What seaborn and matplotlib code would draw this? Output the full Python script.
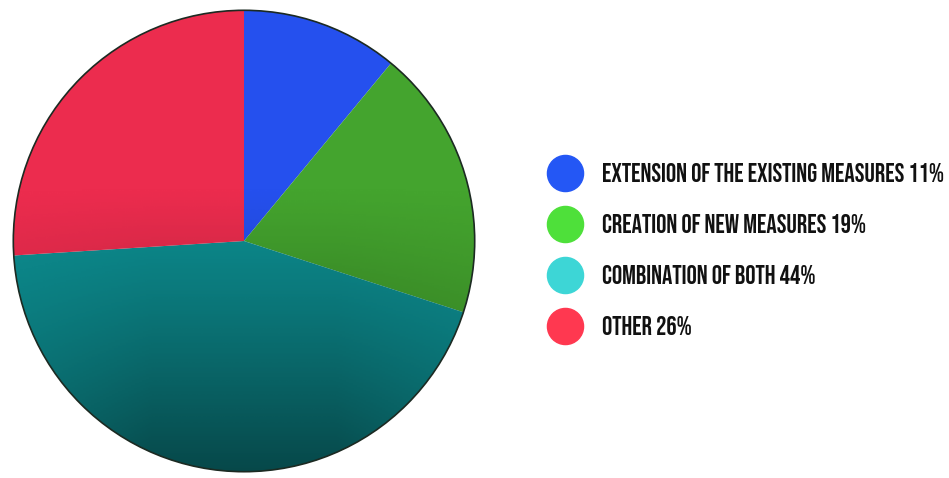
#!/usr/bin/env python3
"""Pie chart: preferred approach for measures (share of responses)."""

import matplotlib

matplotlib.use("Agg")

import matplotlib.pyplot as plt
import numpy as np
import seaborn as sns
from matplotlib.colors import LinearSegmentedColormap
from matplotlib.lines import Line2D

labels = [
    "EXTENSION OF THE EXISTING MEASURES",
    "CREATION OF NEW MEASURES",
    "COMBINATION OF BOTH",
    "OTHER",
]
shares = [11, 19, 44, 26]
pie_colors = ["#2550ee", "#44a42e", "#0d8f92", "#ec2c4e"]
legend_colors = ["#2457f5", "#4ee03a", "#3dd6d6", "#ff3850"]

sns.set_theme(style="white")
plt.rcParams["font.family"] = ["Bebas Neue", "DejaVu Sans"]

fig = plt.figure(figsize=(9.49, 4.78), dpi=100)
fig.patch.set_facecolor("white")

ax = fig.add_axes([11 / 949, 4 / 478, 466 / 949, 466 / 478])
ax.pie(
    shares,
    colors=pie_colors,
    startangle=90,
    counterclock=False,
    wedgeprops={"edgecolor": "none", "linewidth": 0},
)

# soft top-to-bottom shading, like the glossy original
yy, xx = np.mgrid[1:-1:300j, -1:1:300j]
shade = 0.5 * np.clip((0.25 - yy) / 1.25, 0, 1) ** 1.2
shade *= 1 - 0.35 * np.clip(np.abs(xx) - 0.4, 0, 1) / 0.6
dark = LinearSegmentedColormap.from_list("dark", [(0, 0, 0, 0), (0, 0, 0, 1)])
img = ax.imshow(shade, extent=(-1, 1, -1, 1), cmap=dark, vmin=0, vmax=1,
                interpolation="bilinear", zorder=3)
img.set_clip_path(plt.Circle((0, 0), 1.0, transform=ax.transData))
ax.add_patch(plt.Circle((0, 0), 1.0, fill=False, edgecolor="#1c2a22",
                        linewidth=1.2, zorder=4))
ax.set_aspect("equal")
ax.set_xlim(-1.01, 1.01)
ax.set_ylim(-1.01, 1.01)
ax.axis("off")

handles = [
    Line2D([], [], marker="o", linestyle="none", markersize=26,
           markerfacecolor=c, markeredgecolor=c)
    for c in legend_colors
]
texts = [f"{lab} {val}%" for lab, val in zip(labels, shares)]
fig.legend(
    handles,
    texts,
    loc="center left",
    bbox_to_anchor=(526 / 949, 1 - 249 / 478),
    frameon=False,
    handletextpad=0.84,
    labelspacing=1.25,
    handlelength=1.2,
    prop={"size": 18.5},
    labelcolor="#111111",
)

fig.savefig("out.png", dpi=100, facecolor="white")
